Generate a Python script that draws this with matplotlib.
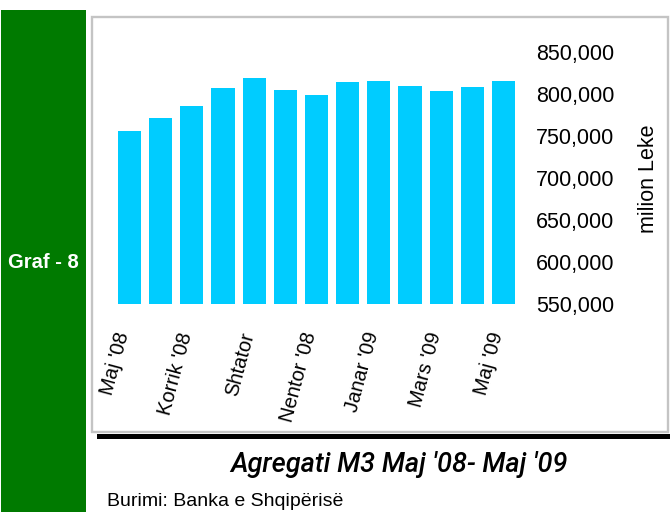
import matplotlib
matplotlib.use("Agg")
import matplotlib.pyplot as plt
from matplotlib.patches import Rectangle
from matplotlib.ticker import FuncFormatter
from matplotlib.transforms import ScaledTranslation

plt.rcParams['font.family'] = ['Liberation Sans', 'DejaVu Sans']

months = ["Maj '08", "Qershor", "Korrik '08", "Gusht", "Shtator", "Tetor",
          "Nentor '08", "Dhjetor", "Janar '09", "Shkurt", "Mars '09", "Prill", "Maj '09"]
m3_values = [756200, 771700, 786000, 807400, 819400, 805100, 799100,
             814600, 815800, 809800, 803900, 808600, 815800]
y_ticks = [550000, 600000, 650000, 700000, 750000, 800000, 850000]
shown_idx = [0, 2, 4, 6, 8, 10, 12]

W, H = 670, 512
fig = plt.figure(figsize=(W / 100, H / 100), dpi=100)

# background decoration axes in pixel coordinates
bg = fig.add_axes([0, 0, 1, 1])
bg.set_xlim(0, W)
bg.set_ylim(H, 0)
bg.axis('off')
bg.add_patch(Rectangle((1, 9.5), 85, H, facecolor='#007A00', edgecolor='none'))
bg.add_patch(Rectangle((92, 17), 576, 415, facecolor='white', edgecolor='#c4c4c4', lw=1.7))
bg.add_patch(Rectangle((97, 434), 580, 5, facecolor='black', edgecolor='none'))
bg.text(43.5, 262, "Graf - 8", color='white', fontsize=14.5, fontweight='bold',
        ha='center', va='center')
bg.text(648, 179, "milion Leke", fontsize=15.5, rotation=90, ha='center', va='center')
bg.text(398.5, 471.5, "Agregati M3 Maj '08- Maj '09", fontsize=19.5, fontstyle='italic',
        fontweight='medium', family=['Roboto', 'Liberation Sans'],
        ha='center', va='baseline')
bg.text(106.7, 505.7, "Burimi: Banka e Shqipërisë", fontsize=14, ha='left', va='baseline')

# main chart
ax = fig.add_axes([113.9 / W, 208 / H, 405.2 / W, 251.7 / H])
ax.patch.set_alpha(0)
x = list(range(len(months)))
ax.bar(x, m3_values, width=0.74, color='#00CCFF')
ax.set_xlim(-0.5, len(months) - 0.5)
ax.set_ylim(550000, 850000)
for s in ax.spines.values():
    s.set_visible(False)

ax.yaxis.tick_right()
ax.set_yticks(y_ticks)
ax.yaxis.set_major_formatter(FuncFormatter(lambda v, p: f"{v:,.0f}"))
ax.tick_params(axis='y', length=0, pad=12, labelsize=15.5)

ax.set_xticks(shown_idx)
ax.set_xticklabels([months[i] for i in shown_idx], rotation=75, ha='right', va='top', fontsize=14.5)
ax.tick_params(axis='x', length=0, pad=18.7)
off = ScaledTranslation(3.5 / 100, 0, fig.dpi_scale_trans)
for lab in ax.get_xticklabels():
    lab.set_transform(lab.get_transform() + off)

fig.savefig("out.png", dpi=100)
